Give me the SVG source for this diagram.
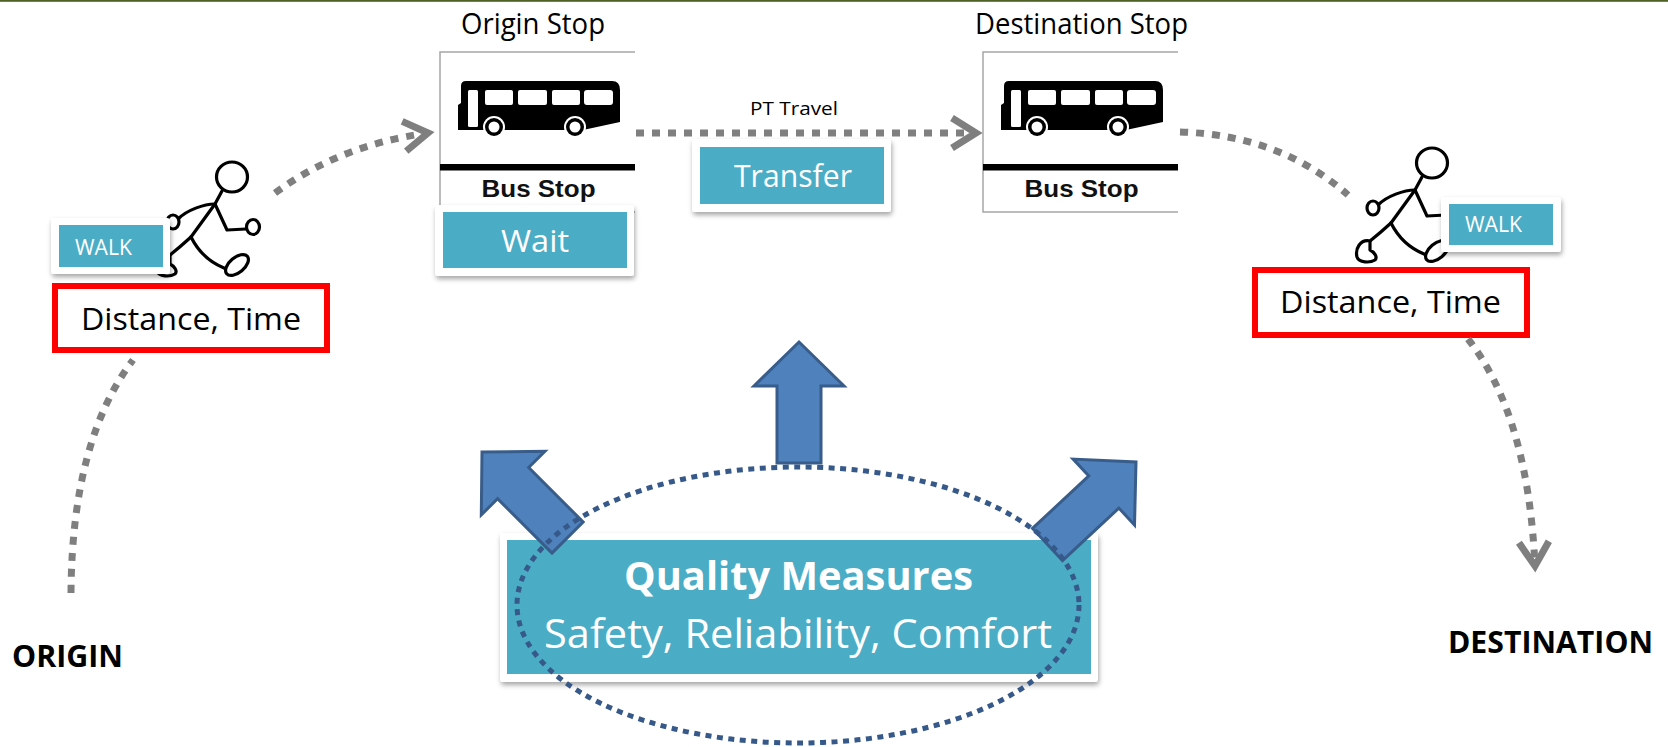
<svg xmlns="http://www.w3.org/2000/svg" xmlns:xlink="http://www.w3.org/1999/xlink" width="1668" height="747" viewBox="0 0 1668 747">
  <style>
    .lbl { font-family: "Open Sans", "Liberation Sans", sans-serif; fill: #000; }
    .bold { font-weight: bold; }
    .wt { fill: #fff; }
    .card { fill: #fff; filter: url(#shadow); }
    .teal { fill: #4bacc6; }
    .redbox { fill: #fff; stroke: #ff0000; stroke-width: 6; }
    .dots { fill: none; stroke: #7f7f7f; stroke-width: 7; stroke-dasharray: 8 8; }
    .block { fill: #4f81bd; stroke: #385d8a; stroke-width: 3; stroke-linejoin: miter; }
    .ring { fill: none; stroke: #36598a; stroke-width: 5; stroke-dasharray: 6 5.5; }
  </style>
  <defs>
    <filter id="shadow" x="-10%" y="-20%" width="120%" height="150%">
      <feDropShadow dx="1" dy="3" stdDeviation="2.5" flood-color="#000" flood-opacity="0.35"/>
    </filter>
    <marker id="chevron" markerUnits="userSpaceOnUse" markerWidth="50" markerHeight="50" viewBox="-30 -25 50 50" refX="0" refY="0" orient="auto" overflow="visible">
      <path d="M -24 -15 L 0 0 L -24 15" fill="none" stroke="#7f7f7f" stroke-width="7" stroke-linejoin="miter" stroke-miterlimit="10"/>
    </marker>
    <!-- block arrow, tip at origin, pointing up -->
    <path id="blockArrow" d="M 0 0 L 45 44 L 22 44 L 22 121 L -22 121 L -22 44 L -45 44 Z"/>
    <!-- stick figure walking, origin at centre of head -->
    <g id="walker" fill="#fff" stroke="#000" stroke-width="3.2" stroke-linecap="round" stroke-linejoin="round">
      <path d="M -10 14 L -17 27 L -41 60" fill="none"/>
      <path d="M -17 27 C -28 27 -45 33 -54 42" fill="none"/>
      <path d="M -17 27 L -5 53 L 14 52" fill="none"/>
      <path d="M -41 60 Q -52 70 -62 78" fill="none"/>
      <path d="M -41 60 Q -30 82 -8 91" fill="none"/>
      <ellipse cx="-59" cy="45" rx="6" ry="7"/>
      <ellipse cx="21" cy="50" rx="6.5" ry="7.5"/>
      <path d="M -62 78 C -72 76 -77 86 -75 94 C -73 100 -62 100 -57 97 C -54 94 -58 89 -62 87 Z"/>
      <ellipse cx="5" cy="88" rx="13.5" ry="7.5" transform="rotate(-40 5 88)"/>
      <ellipse cx="0" cy="0" rx="15.5" ry="15"/>
    </g>
    <!-- bus stop sign, origin at top-left corner -->
    <g id="busSign">
      <rect x="0" y="0" width="195" height="160" fill="#fff"/>
      <path d="M 195 0 H 0 V 160 H 195" fill="none" stroke="#a6a6a6" stroke-width="1.5"/>
      <path d="M 18 78 V 53 L 21 51 V 34 Q 21 29 26 29 H 172 Q 180 29 180 38 V 70 L 143 78 Z" fill="#000"/>
      <rect x="28" y="38" width="10" height="37" rx="1.5" fill="#fff"/>
      <rect x="45" y="38" width="28" height="15" rx="2" fill="#fff"/>
      <rect x="78" y="38" width="29" height="15" rx="2" fill="#fff"/>
      <rect x="112" y="38" width="28" height="15" rx="2" fill="#fff"/>
      <rect x="144" y="38" width="29" height="15" rx="3" fill="#fff"/>
      <circle cx="54" cy="75" r="11" fill="#fff"/>
      <circle cx="54" cy="75" r="9" fill="#000"/>
      <circle cx="54" cy="75" r="5.5" fill="#fff"/>
      <circle cx="135" cy="75" r="11" fill="#fff"/>
      <circle cx="135" cy="75" r="9" fill="#000"/>
      <circle cx="135" cy="75" r="5.5" fill="#fff"/>
      <rect x="0" y="112" width="195" height="6.5" fill="#000"/>
      <text x="98.5" y="145" text-anchor="middle" font-family="'Liberation Sans', Arial, sans-serif" font-weight="bold" font-size="24" textLength="114" lengthAdjust="spacingAndGlyphs" fill="#111">Bus Stop</text>
    </g>
  </defs>

  <rect x="0" y="0" width="1668" height="747" fill="#fff"/>
  <rect x="0" y="0" width="1668" height="1.8" fill="#4f6228"/>

  <!-- origin / destination end points -->
  <g id="origin">
    <text class="lbl bold" x="12" y="667" font-size="31" textLength="111" lengthAdjust="spacingAndGlyphs">ORIGIN</text>
  </g>
  <g id="destination">
    <text class="lbl bold" x="1448" y="653" font-size="31" textLength="205" lengthAdjust="spacingAndGlyphs">DESTINATION</text>
  </g>

  <!-- origin stop -->
  <g id="origin-stop">
    <text class="lbl" x="533" y="34" text-anchor="middle" font-size="29" textLength="144" lengthAdjust="spacingAndGlyphs">Origin Stop</text>
    <use xlink:href="#busSign" transform="translate(440,52)"/>
  </g>

  <!-- destination stop -->
  <g id="destination-stop">
    <text class="lbl" x="1081.5" y="34" text-anchor="middle" font-size="29" textLength="213" lengthAdjust="spacingAndGlyphs">Destination Stop</text>
    <use xlink:href="#busSign" transform="translate(983,52)"/>
  </g>

  <!-- first walking leg -->
  <g id="walk-origin">
    <use xlink:href="#walker" transform="translate(232,177)"/>
    <rect class="card" x="51" y="218" width="119" height="56" rx="3"/>
    <rect class="teal" x="59" y="225" width="104" height="42"/>
    <text class="lbl wt" x="75" y="255" font-size="22" textLength="57" lengthAdjust="spacingAndGlyphs">WALK</text>
    <rect class="redbox" x="55" y="286" width="272" height="64"/>
    <text class="lbl" x="191" y="330" text-anchor="middle" font-size="31" textLength="220" lengthAdjust="spacingAndGlyphs">Distance, Time</text>
  </g>

  <!-- waiting at the origin stop -->
  <g id="wait">
    <rect class="card" x="435" y="205" width="199" height="71" rx="3"/>
    <rect class="teal" x="443" y="212" width="184" height="56"/>
    <text class="lbl wt" x="535" y="252" text-anchor="middle" font-size="31" textLength="68" lengthAdjust="spacingAndGlyphs">Wait</text>
  </g>

  <!-- in-vehicle leg -->
  <g id="pt-travel">
    <text class="lbl" x="794" y="115" text-anchor="middle" font-size="18" textLength="88" lengthAdjust="spacingAndGlyphs">PT Travel</text>
    <rect class="card" x="692" y="139" width="199" height="73" rx="3"/>
    <rect class="teal" x="700" y="147" width="184" height="57"/>
    <text class="lbl wt" x="793" y="187" text-anchor="middle" font-size="31" textLength="118" lengthAdjust="spacingAndGlyphs">Transfer</text>
  </g>

  <!-- last walking leg -->
  <g id="walk-destination">
    <use xlink:href="#walker" transform="translate(1432,163)"/>
    <rect class="card" x="1441" y="197" width="120" height="55" rx="3"/>
    <rect class="teal" x="1449" y="204" width="104" height="41"/>
    <text class="lbl wt" x="1465" y="232" font-size="22" textLength="57" lengthAdjust="spacingAndGlyphs">WALK</text>
    <rect class="redbox" x="1255" y="270" width="272" height="65"/>
    <text class="lbl" x="1390.5" y="313" text-anchor="middle" font-size="31" textLength="221" lengthAdjust="spacingAndGlyphs">Distance, Time</text>
  </g>

  <!-- quality measures -->
  <g id="quality-measures">
    <rect class="card" x="500" y="533" width="598" height="149" rx="3"/>
    <rect class="teal" x="507" y="540" width="584" height="134"/>
    <text class="lbl wt bold" x="798.5" y="590" text-anchor="middle" font-size="40" textLength="349" lengthAdjust="spacingAndGlyphs">Quality Measures</text>
    <text class="lbl wt" x="798" y="648" text-anchor="middle" font-size="41" textLength="508" lengthAdjust="spacingAndGlyphs">Safety, Reliability, Comfort</text>
  </g>

  <g id="connectors">
    <path class="dots" d="M 71 593 Q 72 440 133 360"/>
    <path class="dots" d="M 275 193 Q 340 145 428 133" marker-end="url(#chevron)"/>
    <path class="dots" d="M 636 133 L 976 133" marker-end="url(#chevron)"/>
    <path class="dots" d="M 1180 132 Q 1280 135 1348 195"/>
    <path class="dots" d="M 1468 339 Q 1528 415 1535 566" marker-end="url(#chevron)"/>
    <use class="block" xlink:href="#blockArrow" transform="translate(482,452) rotate(-45)"/>
    <use class="block" xlink:href="#blockArrow" transform="translate(799,342)"/>
    <use class="block" xlink:href="#blockArrow" transform="translate(1136,462) rotate(47)"/>
  </g>

  <g id="quality-ring">
    <ellipse class="ring" cx="798" cy="605" rx="281" ry="138"/>
  </g>
</svg>
